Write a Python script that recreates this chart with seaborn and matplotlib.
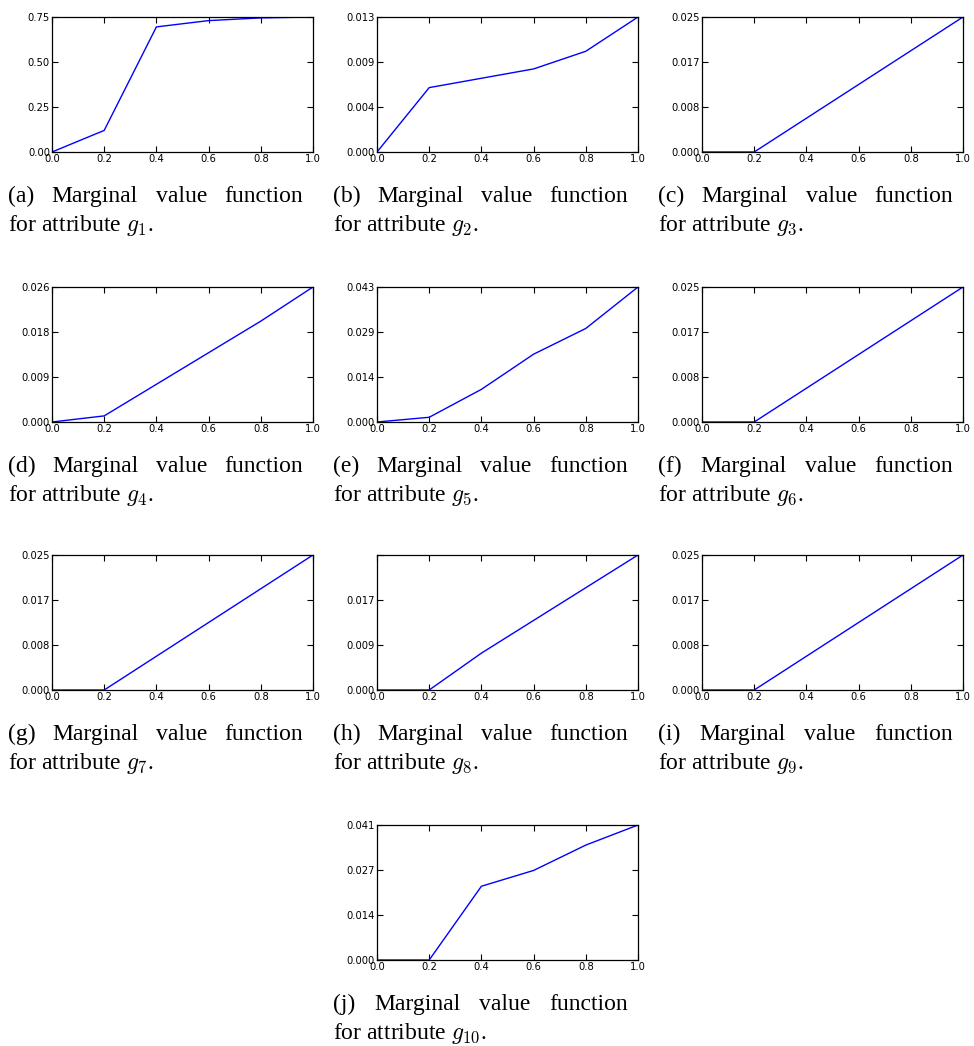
import numpy as np
import pandas as pd
import matplotlib
matplotlib.use('Agg')
import matplotlib.pyplot as plt
import seaborn as sns

# valores (funções marginais de valor, g1..g10)
x_grid = [0.0, 0.2, 0.4, 0.6, 0.8, 1.0]

u_g1 = [0.0, 0.12, 0.695, 0.73, 0.745, 0.75]
u_g2 = [0.0, 0.0062, 0.0071, 0.0080, 0.0097, 0.013]
u_g3 = [0.0, 0.0, 0.00625, 0.0125, 0.01875, 0.025]
u_g4 = [0.0, 0.0012, 0.0074, 0.0136, 0.0198, 0.0265]
u_g5 = [0.0, 0.0015, 0.0104, 0.0216, 0.0298, 0.043]
u_g6 = [0.0, 0.0, 0.00625, 0.0125, 0.01875, 0.025]
u_g7 = [0.0, 0.0, 0.00625, 0.0125, 0.01875, 0.025]
u_g8 = [0.0, 0.0, 0.0071, 0.0134, 0.0197, 0.026]
u_g9 = [0.0, 0.0, 0.00625, 0.0125, 0.01875, 0.025]
u_g10 = [0.0, 0.0, 0.0224, 0.0272, 0.0349, 0.041]

series = [u_g1, u_g2, u_g3, u_g4, u_g5, u_g6, u_g7, u_g8, u_g9, u_g10]
letters = ['a', 'b', 'c', 'd', 'e', 'f', 'g', 'h', 'i', 'j']

ytick_labels = [
    ['0.00', '0.25', '0.50', '0.75'],
    ['0.000', '0.004', '0.009', '0.013'],
    ['0.000', '0.008', '0.017', '0.025'],
    ['0.000', '0.009', '0.018', '0.026'],
    ['0.000', '0.014', '0.029', '0.043'],
    ['0.000', '0.008', '0.017', '0.025'],
    ['0.000', '0.008', '0.017', '0.025'],
    ['0.000', '0.009', '0.017', ''],
    ['0.000', '0.008', '0.017', '0.025'],
    ['0.000', '0.014', '0.027', '0.041'],
]
xtick_labels = ['0.0', '0.2', '0.4', '0.6', '0.8', '1.0']

sns.set_style('ticks')
plt.rcParams['font.family'] = ['DejaVu Sans']
plt.rcParams['mathtext.fontset'] = 'cm'
plt.rcParams['text.color'] = 'black'
plt.rcParams['xtick.color'] = 'black'
plt.rcParams['ytick.color'] = 'black'

W, H = 974, 1046
fig = plt.figure(figsize=(W / 100, H / 100), dpi=100)
renderer = fig.canvas.get_renderer()

ax_left = [52, 377, 702]
ax_top = [17, 287, 555, 825]
ax_w, ax_h = 261, 135
cap_size = 17


def justified(text, x0, x1, y):
    # texto justificado como no LaTeX: palavras espalhadas até a largura da coluna
    words = text.split()
    items = [fig.text(0, 1 - y / H, w, fontsize=cap_size, family='Liberation Serif',
                      va='baseline', ha='left', color='black') for w in words]
    widths = [t.get_window_extent(renderer).width for t in items]
    gap = (x1 - x0 - sum(widths)) / (len(words) - 1)
    pos = x0
    for t, w in zip(items, widths):
        t.set_x(pos / W)
        pos += w + gap


for k, vals in enumerate(series):
    row, col = (k // 3, k % 3) if k < 9 else (3, 1)
    left, top = ax_left[col], ax_top[row]
    ax = fig.add_axes([left / W, 1 - (top + ax_h) / H, ax_w / W, ax_h / H])

    df = pd.DataFrame({'x': x_grid, 'u': vals})
    sns.lineplot(data=df, x='x', y='u', ax=ax, color='#0000ff', linewidth=1.0)

    ymax = max(vals)
    ax.set_xlim(0, 1)
    ax.set_ylim(0, ymax)
    ax.set_xticks(x_grid)
    ax.set_xticklabels(xtick_labels)
    ax.set_yticks(np.linspace(0, ymax, 4))
    ax.set_yticklabels(ytick_labels[k])
    ax.set_xlabel('')
    ax.set_ylabel('')
    ax.tick_params(direction='in', top=True, right=True, length=4, width=0.8,
                   labelsize=7.2, pad=1.5, colors='black')
    for s in ax.spines.values():
        s.set_visible(True)
        s.set_color('black')
        s.set_linewidth(0.9)

    cx0 = left - 44
    justified(f'({letters[k]}) Marginal value function', cx0, cx0 + 295, top + 185)
    fig.text(cx0 / W, 1 - (top + 214) / H, f'for attribute $g_{{{k + 1}}}$.',
             fontsize=cap_size, family='Liberation Serif', va='baseline', ha='left',
             color='black')

fig.savefig('out.png', dpi=100)
